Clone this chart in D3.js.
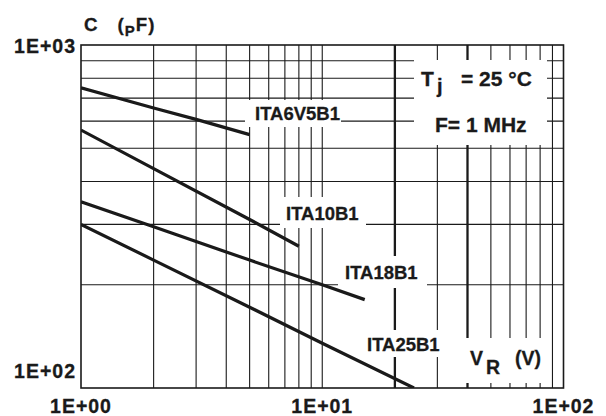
<!DOCTYPE html>
<html lang="en">
<head>
<meta charset="UTF-8">
<title>Capacitance vs reverse voltage</title>
<script src="https://cdn.jsdelivr.net/npm/d3@7"></script>
<style>
  body { margin: 0; background: #fff; }
  svg text { font-family: "Liberation Sans", Arial, sans-serif; font-weight: bold; fill: #1a1a1a; stroke: #1a1a1a; stroke-width: 0.3; }
  .grid line { stroke: #1a1a1a; stroke-width: 1.1; }
  .grid line.thick { stroke-width: 2.3; }
  .curve { fill: none; stroke: #1a1a1a; stroke-width: 3.2; }
</style>
</head>
<body>
<svg id="chart" width="606" height="416"></svg>
<script>
// curves: V_R (V) -> C (pF)
var names = ['ITA6V5B1', 'ITA10B1', 'ITA18B1', 'ITA25B1'];
var vr6v5 = [1, 2, 3, 5];
var c6v5 = [750, 655, 607, 548];
var vr10 = [1, 2, 5, 8];
var c10 = [565, 436, 310, 259];
var vr18 = [1, 2, 5, 10, 15];
var c18 = [349, 295, 236, 200, 181];
var vr25 = [1, 2, 5, 10, 24];
var c25 = [300, 236, 172, 135, 100];

var xTicks = [1, 10, 100];
var xTickLabels = ['1E+00', '1E+01', '1E+02'];
var yTicks = [100, 1000];
var yTickLabels = ['1E+02', '1E+03'];

var series = [
  { name: names[0], vr: vr6v5, c: c6v5 },
  { name: names[1], vr: vr10, c: c10 },
  { name: names[2], vr: vr18, c: c18 },
  { name: names[3], vr: vr25, c: c25 }
];

// plot box (pixels)
var pL = 81, pR = 563.5, pT = 45, pB = 388;
var x = d3.scaleLog().domain([1, 100]).range([pL, pR]);
var y = d3.scaleLog().domain([100, 1000]).range([pB, pT]);

var svg = d3.select('#chart');

svg.append('defs').append('clipPath').attr('id', 'plot')
  .append('rect')
  .attr('x', pL).attr('y', pT)
  .attr('width', pR - pL).attr('height', pB - pT);

// grid
var thickV = [20, 40];
var grid = svg.append('g').attr('class', 'grid');
grid.selectAll('line.v')
  .data(x.ticks().filter(d => d > 1 && d < 100))
  .enter().append('line')
  .attr('class', d => thickV.indexOf(d) >= 0 ? 'v thick' : 'v')
  .attr('x1', d => x(d)).attr('x2', d => x(d))
  .attr('y1', pT).attr('y2', pB);
grid.selectAll('line.h')
  .data(y.ticks().filter(d => d > 100 && d < 1000))
  .enter().append('line')
  .attr('class', 'h')
  .attr('x1', pL).attr('x2', pR)
  .attr('y1', d => y(d)).attr('y2', d => y(d));

// white boxes behind the annotations
var boxes = [
  [245, 100, 341, 127],
  [280, 197, 366, 228],
  [338, 256, 427, 288],
  [360, 330, 445, 357],
  [455, 338, 546, 383],
  [414, 60, 547, 145]
];
svg.selectAll('rect.box')
  .data(boxes)
  .enter().append('rect')
  .attr('class', 'box')
  .attr('x', d => d[0]).attr('y', d => d[1])
  .attr('width', d => d[2] - d[0]).attr('height', d => d[3] - d[1])
  .attr('fill', '#fff');

// curves
var line = d3.line()
  .x(d => x(d[0]))
  .y(d => y(d[1]));

svg.append('g').attr('clip-path', 'url(#plot)')
  .selectAll('path')
  .data(series)
  .enter().append('path')
  .attr('class', 'curve')
  .attr('d', s => line(s.vr.map((v, i) => [v, s.c[i]])));

// frame
svg.append('rect')
  .attr('x', pL).attr('y', pT)
  .attr('width', pR - pL).attr('height', pB - pT)
  .attr('fill', 'none').attr('stroke', '#1a1a1a').attr('stroke-width', 1.6);

// curve labels
var labelPos = [[255, 119.5], [286, 219.5], [345, 279], [367, 350.5]];
svg.selectAll('text.lbl')
  .data(series)
  .enter().append('text')
  .attr('class', 'lbl')
  .attr('x', (d, i) => labelPos[i][0])
  .attr('y', (d, i) => labelPos[i][1])
  .style('font-size', '18.5px')
  .text(d => d.name);

// tick labels
svg.selectAll('text.xt')
  .data(xTicks)
  .enter().append('text')
  .attr('class', 'xt')
  .attr('x', d => x(d))
  .attr('y', pB + 25)
  .attr('text-anchor', 'middle')
  .style('font-size', '19.5px')
  .style('letter-spacing', '1px')
  .text((d, i) => xTickLabels[i]);

svg.selectAll('text.yt')
  .data(yTicks)
  .enter().append('text')
  .attr('class', 'yt')
  .attr('x', pL - 5)
  .attr('y', (d, i) => i === 0 ? y(d) - 9.7 : y(d) + 8.3)
  .attr('text-anchor', 'end')
  .style('font-size', '19.5px')
  .style('letter-spacing', '1px')
  .text((d, i) => yTickLabels[i]);

// axis titles
svg.append('text').attr('x', 84).attr('y', 30.7).style('font-size', '18.7px').text('C');
var cu = svg.append('text').attr('x', 117.5).attr('y', 30.7)
  .style('font-size', '18.7px').style('letter-spacing', '1px');
cu.append('tspan').text('(');
cu.append('tspan').attr('dy', 5).style('font-size', '15px').text('P');
cu.append('tspan').attr('dy', -5).text('F)');

svg.append('text').attr('x', 470).attr('y', 365).style('font-size', '19.5px').text('V');
svg.append('text').attr('x', 486).attr('y', 373.5).style('font-size', '19.5px').text('R');
svg.append('text').attr('x', 515).attr('y', 365).style('font-size', '19.5px').text('(V)');

// conditions
svg.append('text').attr('x', 421).attr('y', 86).style('font-size', '21px').text('T');
svg.append('text').attr('x', 437).attr('y', 92.5).style('font-size', '20px').text('j');
svg.append('text').attr('x', 461).attr('y', 86).style('font-size', '21px').text('= 25 °C');
svg.append('text').attr('x', 435).attr('y', 131.5).style('font-size', '21px').text('F= 1 MHz');
</script>
</body>
</html>
